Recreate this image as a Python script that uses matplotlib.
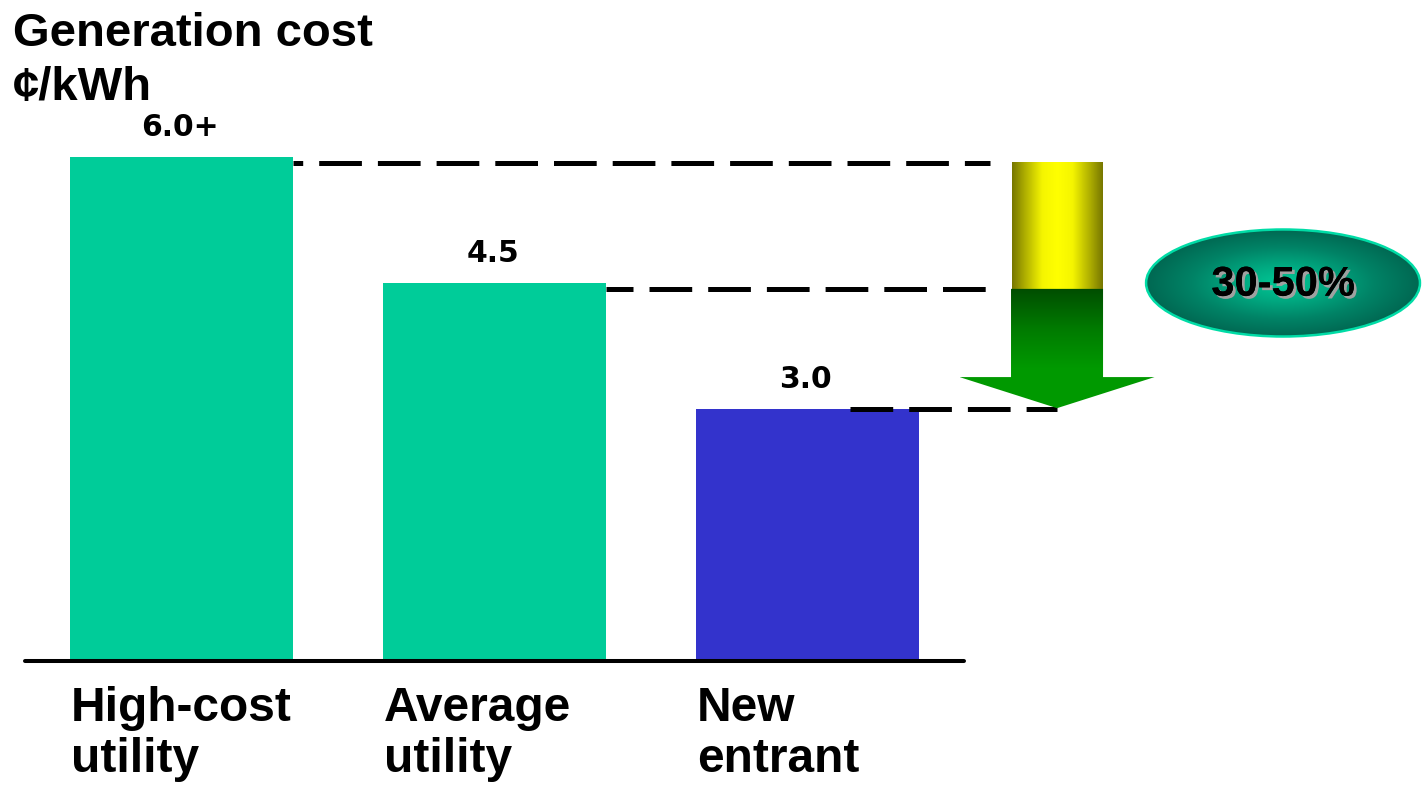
import numpy as np
import matplotlib
matplotlib.use('Agg')
import matplotlib.pyplot as plt
from matplotlib.patches import Ellipse, Polygon
from matplotlib.colors import LinearSegmentedColormap
import matplotlib.patheffects as pe

# ---------------- data ----------------
categories = ["High-cost\nutility", "Average\nutility", "New\nentrant"]
values = [6.0, 4.5, 3.0]
value_labels = ["6.0+", "4.5", "3.0"]
bar_colors = ["#00CC99", "#00CC99", "#3333CC"]
title_lines = ["Generation cost", "\u00a2/kWh"]
reduction_label = "30-50%"

# ---------------- figure ----------------
W, H, DPI = 1422, 787, 100
fig = plt.figure(figsize=(W / DPI, H / DPI), dpi=DPI)
ax = fig.add_axes([0, 0, 1, 1])
XLIM = (-0.580, 3.963)
YLIM = (-1.5, 7.869)
ax.set_xlim(*XLIM)
ax.set_ylim(*YLIM)
ax.axis('off')

FONT = 'Liberation Sans'
x = np.arange(len(values))
bw = 0.7125
ax.bar(x, values, width=bw, color=bar_colors, zorder=2)

# baseline
ax.plot([x[0] - 0.5, x[-1] + 0.5], [0, 0], color='black', lw=2.9,
        solid_capstyle='round', zorder=4)

# dashed guide lines
arrow_x = x[-1] + 0.797
dash_start = [x[0] + bw / 2, x[1] + bw / 2, x[2] + 0.136]
dash_end = [arrow_x - 0.214, arrow_x - 0.227, arrow_x]
dash_dy = [-0.07, -0.07, 0.0]
dash_phase = [6.6, 3.14, 0.0]
for v, xs, xe, dy, ph in zip(values, dash_start, dash_end, dash_dy, dash_phase):
    ax.plot([xs, xe], [v + dy, v + dy], color='black', lw=3.6,
            linestyle=(ph, (8.54, 3.2)), dash_capstyle='butt', zorder=3)

# ---------------- arrow ----------------
top_y = values[0] + dash_dy[0]
mid_y = values[1] + dash_dy[1]
tip_y = values[2] + 0.01
shaft_half = 0.1438
head_half = 0.3115
head_len = 0.37

yellow_cmap = LinearSegmentedColormap.from_list(
    'yel', ['#777700', '#b8b800', '#f5f500', '#ffff00', '#f5f500', '#b8b800', '#777700'])
grad_h = np.linspace(0, 1, 256).reshape(1, -1)
ax.imshow(grad_h, cmap=yellow_cmap, aspect='auto', interpolation='bilinear',
          extent=[arrow_x - shaft_half, arrow_x + shaft_half, mid_y, top_y], zorder=5)

green_cmap = LinearSegmentedColormap.from_list('grn', ['#004d00', '#007a00', '#009900', '#009a00'])
poly = Polygon([
    (arrow_x - 0.147, mid_y), (arrow_x + 0.147, mid_y),
    (arrow_x + 0.147, tip_y + head_len), (arrow_x + head_half, tip_y + head_len),
    (arrow_x, tip_y), (arrow_x - head_half, tip_y + head_len),
    (arrow_x - 0.147, tip_y + head_len)], closed=True, fill=False,
    edgecolor='none', zorder=5)
ax.add_patch(poly)
grad_v = np.linspace(0, 1, 256).reshape(-1, 1)
im = ax.imshow(grad_v, cmap=green_cmap, aspect='auto', interpolation='bilinear',
               origin='upper',
               extent=[arrow_x - head_half, arrow_x + head_half, tip_y, mid_y], zorder=5)
im.set_clip_path(poly)

# ---------------- ellipse ----------------
ex, ey = 3.519, values[1]
ew, eh = 0.875, 1.274
u, vv = np.meshgrid(np.linspace(-1, 1, 300), np.linspace(-1, 1, 300))
r = np.clip(np.sqrt(u ** 2 + vv ** 2), 0, 1)
ell_cmap = LinearSegmentedColormap.from_list('ell', ['#00c896', '#00a880', '#008366', '#006852'])
ell = Ellipse((ex, ey), ew, eh, fill=False, edgecolor='#00dca6', lw=1.8, zorder=7)
ax.add_patch(ell)
eim = ax.imshow(r, cmap=ell_cmap, aspect='auto', interpolation='bilinear',
                extent=[ex - ew / 2, ex + ew / 2, ey - eh / 2, ey + eh / 2], zorder=6)
eim.set_clip_path(ell)
ax.text(ex, ey - 0.02, reduction_label, fontsize=30, fontweight='bold', family=FONT,
        ha='center', va='center', color='black', zorder=8,
        path_effects=[pe.withSimplePatchShadow(offset=(2, -2), shadow_rgbFace='#a0a0a0',
                                               alpha=1.0), pe.Normal()])

ax.set_xlim(*XLIM)
ax.set_ylim(*YLIM)

# ---------------- value labels ----------------
for xi, v, s in zip(x, values, value_labels):
    ax.annotate(s, xy=(xi, v), xytext=(-2 * 72 / DPI, 21 * 72 / DPI), textcoords='offset points',
                ha='center', va='baseline', fontsize=21.5, fontweight='bold',
                family='DejaVu Sans', color='black', zorder=9)

# ---------------- category labels ----------------
for xi, cat in zip(x, categories):
    for j, line in enumerate(cat.split('\n')):
        ax.annotate(line, xy=(xi - bw / 2, 0), xytext=(1 * 72 / DPI, (-60 - 51 * j) * 72 / DPI),
                    textcoords='offset points', ha='left', va='baseline',
                    fontsize=34.5, fontweight='bold', family=FONT, color='black')

# ---------------- title ----------------
for j, line in enumerate(title_lines):
    fig.text(13 / W, 1 - (46 + 54 * j) / H, line, fontsize=34, fontweight='bold',
             family=FONT, ha='left', va='baseline', color='black')

fig.savefig('out.png', dpi=DPI)
